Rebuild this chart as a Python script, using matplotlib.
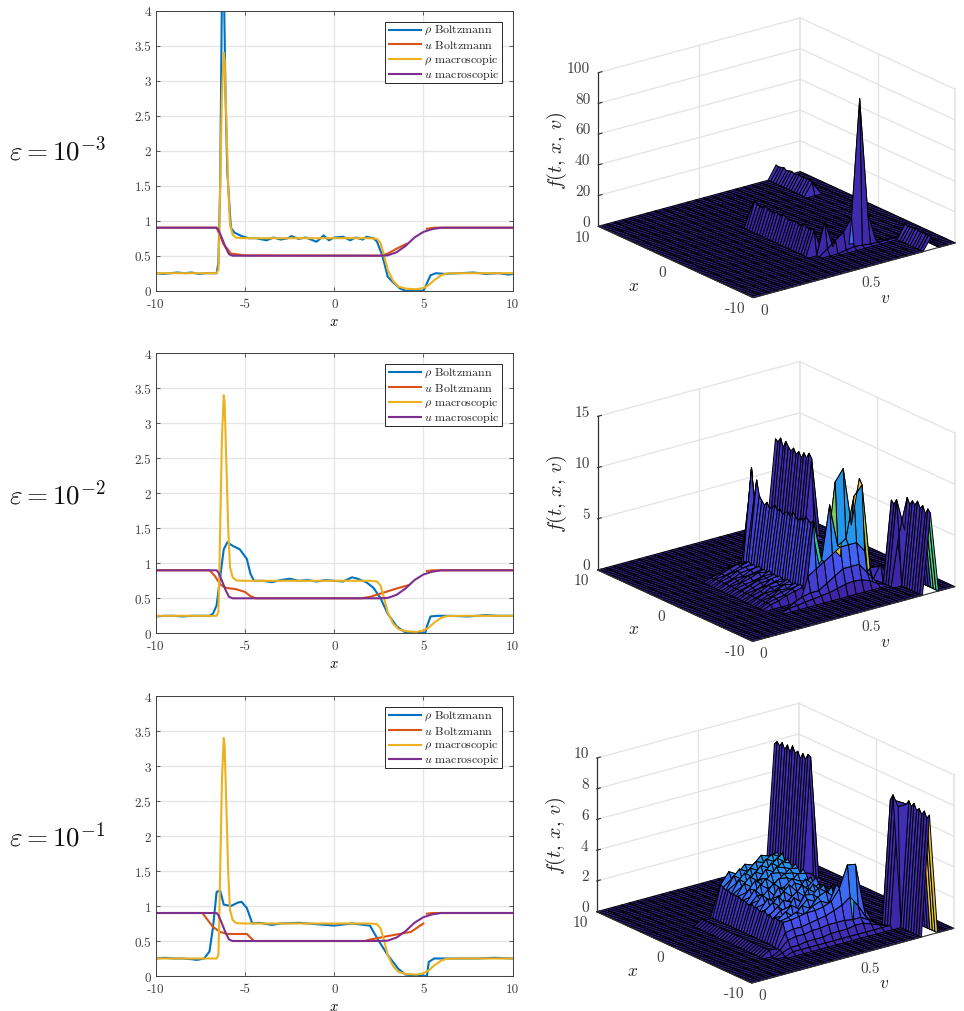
import matplotlib
matplotlib.use('Agg')
import matplotlib.pyplot as plt
from matplotlib.colors import LinearSegmentedColormap
from matplotlib.patches import Rectangle
from mpl_toolkits.mplot3d import proj3d
import numpy as np

plt.rcParams['font.family'] = 'cmr10'
plt.rcParams['mathtext.fontset'] = 'cm'
plt.rcParams['axes.unicode_minus'] = False
plt.rcParams['axes.formatter.use_mathtext'] = True

W, H = 964, 1012

nan = float('nan')

# macroscopic solution, same in all three rows
x_mac = [-10, -6.6, -6.5, -6.45, -6.4, -6.3, -6.2, -6.15, -6.05, -5.95, -5.85, -5.7, -5.5, -5, 2.0, 2.4, 2.6, 2.8, 3.0,
         3.3, 3.6, 4.0, 4.6, 5.0, 5.3, 5.6, 6.0, 6.3, 7.0, 10]
rho_mac = [0.25, 0.25, 0.3, 0.8, 1.5, 2.8, 3.4, 3.3, 2.4, 1.5, 0.95, 0.8, 0.755, 0.75, 0.75, 0.74, 0.68, 0.5, 0.3,
           0.14, 0.06, 0.03, 0.02, 0.04, 0.08, 0.15, 0.22, 0.245, 0.25, 0.25]
x_umac = [-10, -6.6, -6.5, -6.3, -6.1, -5.9, -5.7, 2.5, 3.0, 3.5, 4.0, 4.5, 5.0, 5.5, 6.0, 10]
u_mac = [0.9, 0.9, 0.87, 0.75, 0.62, 0.52, 0.5, 0.5, 0.505, 0.55, 0.64, 0.76, 0.84, 0.88, 0.9, 0.9]

# eps = 1e-3
x_r1 = [-10, -9.6, -9.2, -8.8, -8.4, -8, -7.6, -7.2, -6.8, -6.6, -6.5, -6.4, -6.3, -6.2, -6.1, -6, -5.8, -5.6, -5.2,
        -4.8, -4.4, -3.8, -3.4, -3, -2.6, -2.4, -2, -1.6, -1, -0.8, -0.6, -0.3, 0, 0.5, 0.9, 1.2, 1.6, 1.8, 2.2, 2.4,
        2.7, 3, 3.3, 3.7, 4, 5, 5.1, 5.4, 5.7, 6.2, 7, 7.8, 8.5, 9.2, 9.8, 10]
rho_b1 = [0.25, 0.24, 0.25, 0.26, 0.25, 0.26, 0.24, 0.25, 0.25, 0.25, 0.4, 1.5, 4.3, 4.5, 2.8, 1.7, 0.9, 0.83, 0.78,
          0.75, 0.75, 0.72, 0.76, 0.73, 0.75, 0.78, 0.74, 0.76, 0.7, 0.74, 0.79, 0.72, 0.76, 0.77, 0.72, 0.76, 0.73,
          0.77, 0.75, 0.7, 0.5, 0.2, 0.12, 0.03, 0, 0, 0.05, 0.22, 0.25, 0.24, 0.25, 0.26, 0.24, 0.25, 0.23, 0.24]
x_u1 = [-10, -6.6, -6.4, -6.2, -6, -5.8, -5, 2.6, 3, 3.5, 4.05, 4.06, 5.19, 5.2, 5.6, 10]
u_b1 = [0.9, 0.9, 0.78, 0.66, 0.6, 0.53, 0.505, 0.5, 0.53, 0.6, 0.67, nan, nan, 0.885, 0.9, 0.9]

# eps = 1e-2
x_r2 = [-10, -9.5, -9, -8.5, -8, -7.5, -7, -6.8, -6.6, -6.4, -6.2, -6, -5.7, -5.3, -4.9, -4.7, -4.5, -4, -3.5, -3, -2.5,
        -2, -1.5, -1, -0.5, 0, 0.5, 1, 1.3, 1.8, 2.2, 2.6, 3, 3.5, 4, 5.1, 5.2, 5.4, 5.8, 6.5, 7.5, 8.5, 9.2, 10]
rho_b2 = [0.24, 0.25, 0.25, 0.24, 0.25, 0.25, 0.25, 0.28, 0.4, 0.8, 1.2, 1.3, 1.25, 1.2, 1.06, 0.85, 0.75, 0.75, 0.73,
          0.76, 0.78, 0.75, 0.76, 0.74, 0.76, 0.75, 0.74, 0.8, 0.78, 0.73, 0.65, 0.5, 0.28, 0.1, 0.01, 0, 0.1, 0.24,
          0.25, 0.25, 0.24, 0.26, 0.25, 0.25]
x_u2 = [-10, -7, -6.7, -6.4, -6.1, -5.5, -5, -4.7, -4.4, 1.5, 2, 2.5, 3, 3.5, 4.2, 4.21, 5.19, 5.2, 5.5, 10]
u_b2 = [0.9, 0.9, 0.82, 0.7, 0.65, 0.63, 0.59, 0.53, 0.5, 0.5, 0.52, 0.56, 0.6, 0.64, 0.69, nan, nan, 0.89, 0.9, 0.9]

# eps = 1e-1
x_r3 = [-10, -9.5, -9, -8.5, -8, -7.7, -7.3, -7, -6.8, -6.6, -6.4, -6.2, -5.8, -5.4, -5.2, -4.9, -4.6, -4.2, -3.5, -3,
        -2, -1, 0, 1, 2, 2.5, 3, 3.6, 4, 5.2, 5.3, 5.6, 6, 7, 8, 9, 10]
rho_b3 = [0.25, 0.26, 0.25, 0.25, 0.24, 0.23, 0.25, 0.35, 0.7, 1.2, 1.22, 1.02, 1.0, 1.05, 1.06, 0.97, 0.75, 0.76, 0.73,
          0.75, 0.76, 0.74, 0.72, 0.75, 0.72, 0.5, 0.3, 0.1, 0.02, 0, 0.2, 0.25, 0.25, 0.25, 0.25, 0.26, 0.25]
x_u3 = [-10, -7.4, -7.1, -6.8, -6.4, -6, -4.9, -4.7, -4.5, 1.7, 2, 3, 4.3, 5, 5.01, 5.19, 5.2, 5.5, 10]
u_b3 = [0.9, 0.9, 0.8, 0.7, 0.63, 0.6, 0.6, 0.55, 0.5, 0.5, 0.52, 0.57, 0.63, 0.75, nan, nan, 0.89, 0.9, 0.9]

# surface grids (v along columns, x along rows)
x_nodes = np.linspace(-10, 10, 61)
v_nodes = np.linspace(0, 1, 26)


def along_x(z, i0, j, vals):
    z[i0:i0 + len(vals), j] = vals


def along_v(z, i, j0, vals):
    z[i, j0:j0 + len(vals)] = vals


# surface, eps = 1e-3
z1 = np.zeros((61, 26))
along_x(z1, 46, 22, [8, 9, 8.5, 9, 8, 9, 8.5, 8, 9, 8.5, 8, 9, 8.5, 8, 8.5])
along_x(z1, 0, 22, [8, 8.5, 8, 9, 8, 8.5, 9, 8, 8.5, 8, 9])
along_x(z1, 14, 12, [16, 16, 15, 16, 17, 15, 15, 16, 16, 15, 15, 16, 17, 15, 16, 16, 15, 15, 16, 17, 15, 15, 16, 17, 13])
along_v(z1, 13, 13, [21, 3, 2, 2, 1])
along_v(z1, 12, 13, [4, 8, 12, 20, 96, 20, 1])
along_v(z1, 11, 15, [1, 2, 1.5, 0.8, 0.5, 0.4, 0.4, 0.5])

# surface, eps = 1e-2
z2 = np.zeros((61, 26))
along_x(z2, 46, 22, [7.8, 8.2, 7.6, 8, 7.4, 7.9, 7.5, 8, 7.6, 7.9, 8.3, 7.6, 8.4, 7.9, 8.1])
along_x(z2, 0, 22, [7.8, 8.1, 7.5, 8.2, 7.8, 8.4, 7.9, 8.2, 7.7, 8.3, 5])
along_x(z2, 9, 21, [5, 8.2, 7.6, 7.9])
along_v(z2, 45, 21, [0.7, 0.6])
along_v(z2, 13, 19, [1.2, 1.8])
along_v(z2, 14, 20, [1.4])
along_v(z2, 15, 20, [0.6])
along_x(z2, 16, 12, [7.4, 7.6, 7.1, 7.3, 6.9, 7.2, 7.5, 6.9, 7.3, 7.1, 6.8, 7.2, 6.9, 7.4, 7.0, 6.8, 7.3, 6.9, 7.2, 7.6, 9.0, 7.1, 10, 7])
along_v(z2, 14, 12, [7.6, 3.5, 8.7, 4.5, 5, 8.9, 9.8, 1.5])
along_v(z2, 15, 12, [7.2, 3, 4, 10.6, 11.7, 6, 10.3, 1])
along_v(z2, 16, 15, [4, 3, 2, 1.5, 0.4])
along_v(z2, 13, 11, [2.5, 3, 3.5, 4, 4.5, 4.5, 4.5, 3.5, 0.4])
along_v(z2, 12, 9, [0.5, 0.8, 1, 1, 1.5, 2, 2.5, 2.5, 2.5, 1.5, 0.5])
along_v(z2, 11, 8, [0.2, 0.3, 0.4, 0.5, 0.6, 0.7, 0.9, 1.1, 1.2, 1.1, 0.8, 0.3])
skirt2 = [[0.3, 0.5, 0.8, 1.0, 1.2], [0.4, 0.6, 0.7, 1.1, 1.4], [0.3, 0.7, 0.9, 1.0, 1.1], [0.4, 0.5, 1.0, 0.9, 1.3],
          [0.3, 0.6, 0.8, 1.2, 1.0], [0.4, 0.7, 0.7, 1.0, 1.2], [0.3, 0.5, 0.9, 0.9, 1.3], [0.4, 0.6, 1.0, 1.1, 1.0],
          [0.3, 0.7, 0.8, 1.0, 1.1], [0.4, 0.5, 0.7, 1.2, 1.3], [0.3, 0.6, 0.9, 0.9, 1.0], [0.4, 0.7, 1.0, 1.0, 1.2],
          [0.3, 0.5, 0.8, 1.1, 1.1], [0.4, 0.6, 0.7, 0.9, 1.3], [0.3, 0.7, 0.9, 1.2, 1.0], [0.4, 0.5, 1.0, 1.0, 1.2],
          [0.3, 0.6, 0.8, 0.9, 1.1], [0.4, 0.7, 0.7, 1.1, 1.3], [0.3, 0.5, 0.9, 1.0, 1.0], [0.4, 0.6, 1.0, 1.2, 1.2],
          [0.3, 0.7, 0.8, 0.9, 1.1], [0.4, 0.5, 0.7, 1.0, 1.3], [0.3, 0.6, 0.9, 1.1, 1.0], [0.3, 0.5, 0.8, 0.9, 1.1]]
for k, row in enumerate(skirt2):
    along_v(z2, 15 + k, 7, row)

# surface, eps = 1e-1
z3 = np.zeros((61, 26))
along_x(z3, 46, 22, [8.0, 8.1, 7.7, 8.0, 7.6, 8.0, 7.8, 8.2, 7.7, 8.1, 7.7, 8.1, 7.8, 8.0, 7.8])
along_x(z3, 0, 22, [7.8, 7.5, 7.9, 7.6, 7.9, 7.7, 8.1, 7.8, 8.1, 7.8, 7.8])
along_x(z3, 9, 21, [7.8, 8.1, 8.4, 8.0])
along_v(z3, 45, 21, [0.7, 0.5])
along_v(z3, 9, 8, [0.2, 0.2, 0.2, 0.2, 0.2, 0.2, 0.2, 0.2, 0.2, 0.2, 0.2, 0.2, 0.2])
along_v(z3, 10, 7, [0.2, 0.4, 0.4, 0.5, 0.5, 0.5, 0.6, 0.6, 0.6, 0.7, 0.7, 0.5, 0.3, 0.1])
along_v(z3, 11, 7, [0.3, 0.8, 0.9, 0.9, 1.0, 1.0, 1.1, 1.1, 1.1, 1.0, 1.0, 0.7, 0.3, 0.1])
along_v(z3, 12, 7, [0.3, 1.2, 1.3, 1.3, 1.4, 1.5, 1.6, 1.8, 2.0, 2.4, 1.7, 0.8, 0.3])
along_v(z3, 13, 7, [0.3, 1.8, 1.8, 1.9, 2.0, 2.0, 2.1, 2.3, 3.0, 4.4, 4.3, 1.4, 0.4])
plateau3 = [[0.35, 1.8, 1.9, 2.1, 1.8, 2.2, 2.4, 2.1, 3.2, 2.2], [0.35, 1.8, 2.2, 1.7, 2.3, 2.0, 2.6, 2.8, 2.3, 1.0],
            [0.35, 1.9, 1.8, 2.4, 2.0, 2.5, 2.2, 2.3, 2.9, 0.9], [0.35, 1.7, 2.1, 2.2, 1.9, 2.7, 2.6, 2.1, 2.5, 0.8],
            [0.35, 1.9, 2.3, 1.8, 2.6, 2.1, 2.3, 2.8, 2.4, 1.1], [0.35, 1.8, 1.9, 2.5, 2.2, 2.0, 2.8, 2.4, 2.8, 0.7],
            [0.35, 2.0, 2.4, 2.0, 2.3, 2.7, 2.2, 2.9, 2.3, 1.0], [0.35, 1.9, 2.0, 2.6, 1.9, 2.4, 2.9, 2.3, 2.7, 0.8],
            [0.35, 1.8, 2.5, 2.1, 2.7, 2.2, 2.5, 2.6, 3.0, 0.9], [0.35, 2.0, 2.1, 2.3, 2.4, 2.9, 2.3, 3.0, 2.5, 1.1],
            [0.35, 1.9, 2.6, 2.0, 2.8, 2.3, 2.8, 2.5, 2.9, 0.7], [0.35, 2.1, 2.2, 2.7, 2.1, 2.6, 3.0, 2.7, 2.6, 1.0],
            [0.35, 1.9, 2.4, 2.3, 2.9, 2.4, 2.6, 3.1, 3.0, 0.8], [0.35, 2.0, 2.7, 2.1, 2.5, 3.0, 2.9, 2.6, 3.2, 0.9],
            [0.35, 2.1, 2.2, 2.8, 2.4, 2.7, 3.1, 3.0, 2.8, 1.1], [0.35, 2.0, 2.6, 2.3, 3.0, 2.5, 2.8, 3.2, 3.1, 0.7],
            [0.35, 2.2, 2.3, 2.9, 2.5, 3.1, 3.0, 2.8, 3.3, 1.0], [0.35, 2.1, 2.8, 2.4, 2.8, 2.7, 3.3, 3.1, 2.9, 0.8],
            [0.35, 2.2, 2.5, 3.0, 2.6, 3.2, 2.9, 3.4, 3.2, 0.9], [0.35, 2.1, 2.9, 2.5, 3.1, 2.8, 3.4, 3.0, 3.4, 1.1],
            [0.35, 2.3, 2.6, 3.1, 2.7, 3.3, 3.0, 3.5, 3.1, 0.8], [0.35, 2.2, 3.0, 2.6, 3.2, 2.9, 3.5, 3.2, 3.6, 0.9],
            [0.35, 2.3, 2.7, 3.2, 2.9, 3.4, 3.2, 3.6, 3.3, 1.0], [0.35, 2.4, 3.1, 2.8, 3.3, 3.1, 3.6, 3.4, 3.5, 0.7],
            [0.2, 1.9, 2.2, 2.3, 2.4, 2.6, 2.7, 2.8, 2.6, 0.5]]
for k, row in enumerate(plateau3):
    along_v(z3, 14 + k, 7, row)
along_x(z3, 12, 6, [0.35] * 27)

eps_labels = [r'$\varepsilon = 10^{-3}$', r'$\varepsilon = 10^{-2}$', r'$\varepsilon = 10^{-1}$']
legend_labels = [r'$\rho$ Boltzmann', r'$u$ Boltzmann', r'$\rho$ macroscopic', r'$u$ macroscopic']
x_ticks = [-10, -5, 0, 5, 10]
x_tick_labels = ['-10', '-5', '0', '5', '10']
y_ticks = [0, 0.5, 1, 1.5, 2, 2.5, 3, 3.5, 4]
y_tick_labels = ['0', '0.5', '1', '1.5', '2', '2.5', '3', '3.5', '4']
z_ticks = [[0, 20, 40, 60, 80, 100], [0, 5, 10, 15], [0, 2, 4, 6, 8, 10]]
colors = ['#0072BD', '#D95319', '#EDB120', '#7E2F8E']
parula = LinearSegmentedColormap.from_list('parula', ['#3E26A8', '#4852F4', '#2E87F7', '#12B1D6', '#37C897', '#ABC739',
                                                      '#FEC338', '#F9FB15'])

fig = plt.figure(figsize=(W / 100, H / 100), dpi=100)

# 2d panels
tops = [11.7, 354.3, 697]
rows = [(x_r1, rho_b1, x_u1, u_b1), (x_r2, rho_b2, x_u2, u_b2), (x_r3, rho_b3, x_u3, u_b3)]
label_y = [150, 494, 836]
legend_rows = [19, 33.6, 48.6, 63.3]
for n in range(3):
    top = tops[n]
    ax = fig.add_axes([156 / W, 1 - (top + 280) / H, 356.5 / W, 280 / H])
    xr, rb, xu, ub = rows[n]
    ax.plot(xr, rb, color=colors[0], lw=1.5)
    ax.plot(xu, ub, color=colors[1], lw=1.5)
    ax.plot(x_mac, rho_mac, color=colors[2], lw=1.5)
    ax.plot(x_umac, u_mac, color=colors[3], lw=1.5)
    ax.set_xlim(-10, 10)
    ax.set_ylim(0, 4)
    ax.set_xticks(x_ticks)
    ax.set_xticklabels(x_tick_labels)
    ax.set_yticks(y_ticks)
    ax.set_yticklabels(y_tick_labels)
    ax.tick_params(axis='x', pad=5)
    ax.tick_params(direction='in', top=True, right=True, length=3, width=0.6, labelsize=9.5, labelcolor='#404040',
                   color='#404040')
    ax.grid(color='#e6e6e6', lw=1)
    ax.set_axisbelow(True)
    for s in ax.spines.values():
        s.set_color('#404040')
        s.set_linewidth(0.7)
    ax.set_xlabel('$x$', fontsize=10.5, labelpad=3)

    # legend box, laid out by hand so the rows are evenly spaced
    ax.add_patch(Rectangle(((385 - 156) / 356.5, 1 - 72.3 / 280), 117 / 356.5, 61.3 / 280, transform=ax.transAxes,
                           facecolor='white', edgecolor='#262626', lw=0.7, zorder=5))
    for k in range(4):
        ry = 1 - legend_rows[k] / 280
        ax.plot([(389.3 - 156) / 356.5, (420.7 - 156) / 356.5], [ry, ry], transform=ax.transAxes, color=colors[k],
                lw=1.5, zorder=6)
        ax.text((424 - 156) / 356.5, ry, legend_labels[k], transform=ax.transAxes, fontsize=8.6, ha='left',
                va='center', color='#222222', zorder=6)

    fig.text(57 / W, 1 - label_y[n] / H, eps_labels[n], fontsize=19.5, ha='center', va='center', color='#111111')

# 3d panels
surfaces = [z1, z2, z3]
z_tops = [100, 15, 10]
corners_left = [(598.3, 227.3), (597.7, 571), (596.7, 912.7)]
ASPECT = (1, 1, 0.645)
GRID = '#e3e3e3'
DARK = '#303030'


def to_pixels(ax, v, x, z):
    px, py, _ = proj3d.proj_transform(v, x, z, ax.get_proj())
    return ax.transData.transform((px, py))


for n in range(3):
    z = surfaces[n]
    zt = z_tops[n]
    ax = fig.add_axes([0.45, 1 - (corners_left[n][1] + 250) / H, 520 / W, 520 / H], projection='3d', proj_type='ortho')
    ax.patch.set_alpha(0)
    ax.computed_zorder = False
    ax.set_xlim(0, 1)
    ax.set_ylim(-10, 10)
    ax.set_zlim(0, zt)
    ax.view_init(elev=20.7, azim=-127.5)
    ax.set_box_aspect(ASPECT, zoom=1)
    ax.set_axis_off()

    # scale and shift so the floor corners land on the reference pixels
    ax.apply_aspect()
    span = to_pixels(ax, 1, -10, 0)[0] - to_pixels(ax, 0, 10, 0)[0]
    ax.set_box_aspect(ASPECT, zoom=357 / span)
    ax.apply_aspect()
    got = to_pixels(ax, 0, 10, 0)
    pos = ax.get_position()
    ax.set_position([pos.x0 + (corners_left[n][0] - got[0]) / W, pos.y0 + (H - corners_left[n][1] - got[1]) / H,
                     pos.width, pos.height])
    ax.apply_aspect()

    # walls
    for t in z_ticks[n]:
        ax.plot([0, 1, 1], [10, 10, -10], [t, t, t], color=GRID, lw=0.9, zorder=1)
        ax.plot([0, 0.018], [10, 10], [t, t], color=DARK, lw=0.8, zorder=4)
    ax.plot([1, 1], [10, 10], [0, zt], color=GRID, lw=1.2, zorder=1)
    ax.plot([1, 1], [-10, -10], [0, zt], color=GRID, lw=1.2, zorder=1)
    ax.plot([0.5, 0.5], [10, 10], [0, zt], color=GRID, lw=0.9, zorder=1)
    ax.plot([1, 1], [0, 0], [0, zt], color=GRID, lw=0.9, zorder=1)

    V, X = np.meshgrid(v_nodes, x_nodes)
    # flat colour of a cell comes from its first corner
    face = parula(z[:-1, :-1] / z.max() * 0.88)
    # far side of the v = 0.88 ridge only shows at the open x = -10 end
    face[3:, 21:23] = parula(0.03)
    if n == 1:
        face[14, 17] = parula(0.88)
    ax.plot_surface(V, X, z, facecolors=face, edgecolor='black', linewidth=0.7, rstride=1, cstride=1, shade=False,
                    antialiased=True, zorder=2)

    ax.plot([0, 0], [10, 10], [0, zt], color=DARK, lw=0.9, zorder=4)
    ax.plot([0, 0, 1], [10, -10, -10], [0, 0, 0], color=DARK, lw=0.8, zorder=4)

    # tick labels in pixel offsets from the projected tick
    def label(v, x, zz, txt, dx, dy, **kw):
        px, py, _ = proj3d.proj_transform(v, x, zz, ax.get_proj())
        ax.annotate(txt, xy=(px, py), xycoords='data', xytext=(dx, dy), textcoords='offset pixels',
                    ha=kw.pop('ha', 'center'), va='center', fontsize=kw.pop('fontsize', 11), color=kw.pop('color', '#404040'),
                    annotation_clip=False, **kw)

    for t in z_ticks[n]:
        label(0, 10, t, str(t), -8, 4.5, ha='right')
    label(0, 10, 0, '10', -16, -10.5)
    label(0, 0, 0, '0', -14, -10)
    label(0, -10, 0, '-10', -18, -10)
    label(0, -10, 0, '0', 11, -12)
    label(0.5, -10, 0, '0.5', 17, -12)
    if n == 2:
        label(1, -10, 0, '1', 14, -11)
    label(0, 0, 0, '$x$', -42, -23, fontsize=12.5, color='#222222')
    label(0.5, -10, 0, '$v$', 31, -27, fontsize=12.5, color='#222222')
    label(0, 10, zt * 0.5, '$f(t,\\,x,\\,v)$', -41, 0, fontsize=14.5, rotation=90, color='#222222')

fig.savefig('out.png', dpi=100)
